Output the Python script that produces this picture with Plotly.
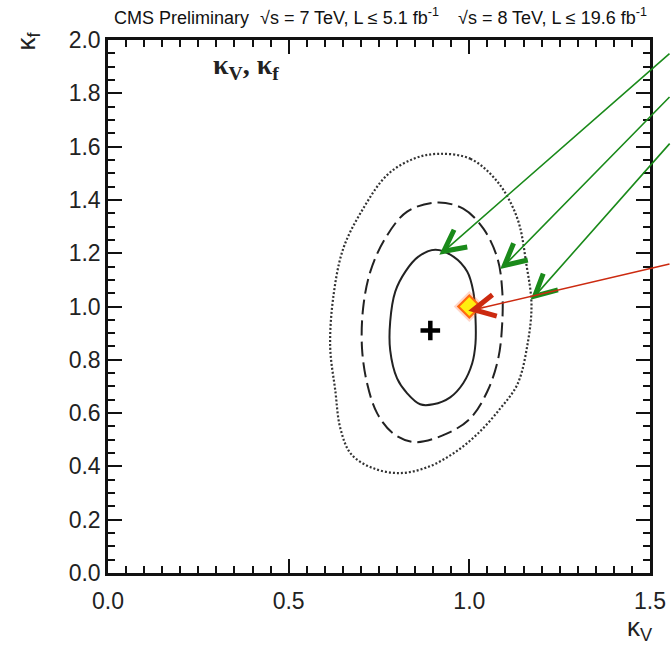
import math
import plotly.graph_objects as go

# Best-fit point and Standard Model expectation
best_kv, best_kf = 0.892, 0.910
sm_kv, sm_kf = 1.0, 1.0

# 68% CL contour (solid)
kv_68 = [0.906, 0.956, 0.994, 1.011, 1.017, 1.017, 1.008, 0.983, 0.947, 0.900,
         0.864, 0.828, 0.800, 0.781, 0.781, 0.795, 0.823, 0.859]
kf_68 = [1.213, 1.187, 1.131, 1.056, 0.959, 0.861, 0.787, 0.712, 0.659, 0.633,
         0.633, 0.674, 0.730, 0.835, 0.944, 1.056, 1.131, 1.187]

# 95% CL contour (dashed)
kv_95 = [0.911, 0.983, 1.039, 1.078, 1.091, 1.091, 1.080, 1.050, 1.003, 0.939,
         0.850, 0.789, 0.745, 0.717, 0.703, 0.706, 0.726, 0.767, 0.828]
kf_95 = [1.390, 1.367, 1.292, 1.180, 1.060, 0.936, 0.805, 0.682, 0.581, 0.524,
         0.491, 0.524, 0.599, 0.712, 0.843, 0.993, 1.131, 1.255, 1.356]

# 99.7% CL contour (dotted)
kv_997 = [0.914, 1.003, 1.078, 1.133, 1.158, 1.172, 1.161, 1.133, 1.086, 1.022,
          0.956, 0.884, 0.809, 0.734, 0.673, 0.643, 0.629, 0.615, 0.623, 0.651,
          0.706, 0.773, 0.845]
kf_997 = [1.573, 1.554, 1.468, 1.330, 1.157, 1.007, 0.858, 0.708, 0.618, 0.521,
          0.449, 0.397, 0.375, 0.393, 0.446, 0.543, 0.685, 0.846, 1.030, 1.217,
          1.367, 1.494, 1.554]

x_ticks = [0.0, 0.5, 1.0, 1.5]
x_tick_text = ["0.0", "0.5", "1.0", "1.5"]
y_ticks = [0.0, 0.2, 0.4, 0.6, 0.8, 1.0, 1.2, 1.4, 1.6, 1.8, 2.0]
y_tick_text = ["0.0", "0.2", "0.4", "0.6", "0.8", "1.0", "1.2", "1.4", "1.6", "1.8", "2.0"]

# Header pieces and their left edges (paper fraction of the plot width)
header_parts = [
    ("CMS Preliminary", 0.007),
    ("√s = 7 TeV, L ≤ 5.1 fb<sup>-1</sup>", 0.277),
    ("√s = 8 TeV, L ≤ 19.6 fb<sup>-1</sup>", 0.642),
]


def closed(seq):
    return list(seq) + [seq[0]]


fig = go.Figure()

contour_styles = [
    (kv_997, kf_997, dict(color="#333333", width=2.2, dash="2px,2px")),
    (kv_95, kf_95, dict(color="#222222", width=2, dash="15px,6px")),
    (kv_68, kf_68, dict(color="#222222", width=2)),
]
for kv, kf, line in contour_styles:
    fig.add_trace(go.Scatter(
        x=closed(kv), y=closed(kf), mode="lines",
        line=dict(shape="spline", smoothing=1.0, **line),
        hoverinfo="skip", showlegend=False,
    ))

# Best fit marker
fig.add_trace(go.Scatter(
    x=[best_kv], y=[best_kf], mode="markers",
    marker=dict(symbol="cross-thin", size=14, line=dict(color="black", width=4.5)),
    showlegend=False,
))

# SM point: soft halo under a yellow diamond
fig.add_trace(go.Scatter(
    x=[sm_kv], y=[sm_kf], mode="markers",
    marker=dict(symbol="diamond", size=24, color="rgba(255,90,40,0.25)",
                line=dict(width=0)),
    showlegend=False,
))
fig.add_trace(go.Scatter(
    x=[sm_kv], y=[sm_kf], mode="markers",
    marker=dict(symbol="diamond", size=17, color="#ffee10",
                line=dict(color="#ff6a10", width=2.2)),
    showlegend=False,
))

# Pointer arrows: tip in data units, tail as a screen-pixel offset from the tip
arrows = [
    (0.929, 1.207, 260, -199, "#1a8a1a"),
    (1.097, 1.154, 200, -170, "#1a8a1a"),
    (1.181, 1.039, 170, -154, "#1a8a1a"),
    (1.012, 0.988, 230, -46, "#cc2a10"),
]
HEAD_LEN = 24
HEAD_HALF_ANGLE = math.radians(27)

annotations = []
shapes = []
for tx, ty, ax, ay, col in arrows:
    # shaft
    annotations.append(dict(
        x=tx, y=ty, xref="x", yref="y", ax=ax, ay=ay, axref="pixel", ayref="pixel",
        text="", showarrow=True, arrowhead=0, arrowwidth=1.6,
        arrowcolor=col, standoff=0,
    ))
    # open V-shaped head, drawn in pixel offsets around the tip (y up)
    ang = math.atan2(-ay, ax)
    wings = []
    for s in (1, -1):
        a = ang + s * HEAD_HALF_ANGLE
        wings.append((HEAD_LEN * math.cos(a), HEAD_LEN * math.sin(a)))
    path = (f"M{wings[0][0]:.1f},{wings[0][1]:.1f} L0,0 "
            f"L{wings[1][0]:.1f},{wings[1][1]:.1f}")
    shapes.append(dict(
        type="path", xref="x", yref="y", xsizemode="pixel", ysizemode="pixel",
        xanchor=tx, yanchor=ty, path=path, line=dict(color=col, width=5),
    ))

for text, xpos in header_parts:
    annotations.append(dict(
        text=text, xref="paper", yref="paper", x=xpos, y=1.0, yshift=10,
        xanchor="left", yanchor="bottom", showarrow=False,
        font=dict(family="Liberation Sans Narrow, Liberation Sans, Arial", size=18,
                  color="#111111"),
    ))

annotations += [
    dict(text="<b>κ<sub>V</sub>, κ<sub>f</sub></b>", xref="paper", yref="paper",
         x=0.19, y=0.95, xanchor="left", yanchor="middle", showarrow=False,
         font=dict(family="Liberation Serif, Times New Roman", size=28, color="#222222")),
    dict(text="κ<sub>V</sub>", xref="paper", yref="paper", x=1.01, y=-0.07,
         xanchor="right", yanchor="top", showarrow=False,
         font=dict(family="Liberation Sans, Arial", size=26, color="#222222")),
    dict(text="κ<sub>f</sub>", xref="paper", yref="paper", x=-0.148, y=1.02,
         xanchor="center", yanchor="top", textangle=-90, showarrow=False,
         font=dict(family="Liberation Sans, Arial", size=26, color="#222222")),
]

axis_common = dict(
    showline=True, linecolor="#111111", linewidth=2.5, mirror="allticks",
    ticks="inside", ticklen=14, tickwidth=2, tickcolor="#111111",
    showgrid=False, zeroline=False, automargin=False,
    tickfont=dict(family="Liberation Sans, Arial", size=23, color="#222222"),
)

fig.update_layout(
    width=671, height=649,
    margin=dict(l=108, r=21, t=40, b=76),
    paper_bgcolor="white", plot_bgcolor="white",
    xaxis=dict(range=[0, 1.5], tickvals=x_ticks, ticktext=x_tick_text,
               ticklabelstandoff=6,
               minor=dict(dtick=0.05, tick0=0, ticks="inside", ticklen=7,
                          tickwidth=1.5, tickcolor="#111111"),
               **axis_common),
    yaxis=dict(range=[0, 2.0], tickvals=y_ticks, ticktext=y_tick_text,
               minor=dict(dtick=0.05, tick0=0, ticks="inside", ticklen=7,
                          tickwidth=1.5, tickcolor="#111111"),
               **axis_common),
    annotations=annotations,
    shapes=shapes,
    showlegend=False,
)

fig.write_html("out.html")
